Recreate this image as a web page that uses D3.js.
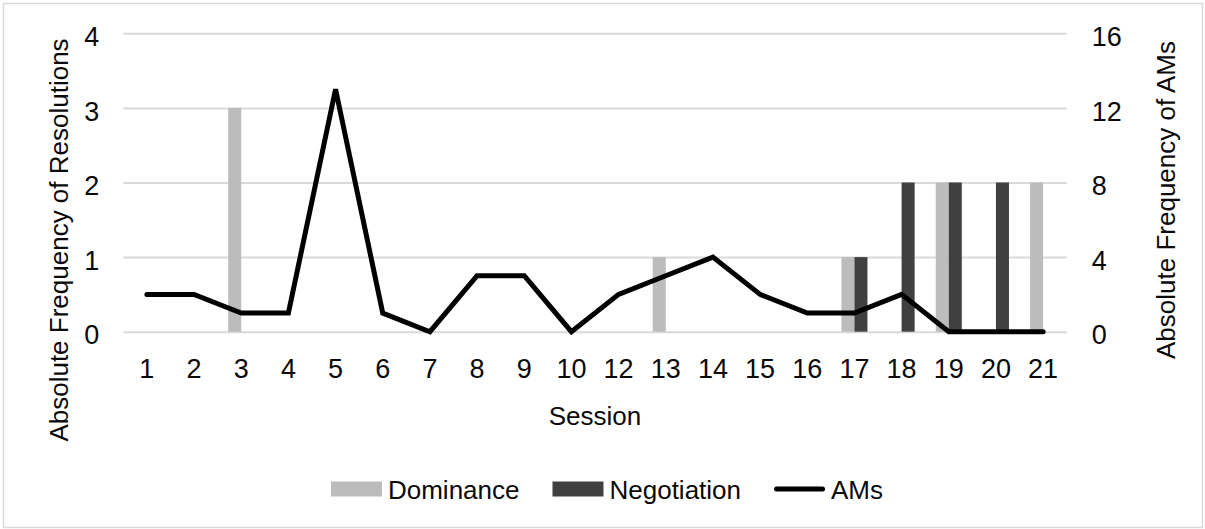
<!DOCTYPE html>
<html>
<head>
<meta charset="utf-8">
<script src="https://cdn.jsdelivr.net/npm/d3@7"></script>
<style>
  html, body { margin: 0; padding: 0; background: #fff; }
  svg text { font-family: "Liberation Sans", Arial, sans-serif; fill: #0a0a0a; }
</style>
</head>
<body>
<svg id="chart" width="1205" height="529"></svg>
<script>
// Sessions (no session 11 was recorded)
const sessions = ["1","2","3","4","5","6","7","8","9","10","12","13","14","15","16","17","18","19","20","21"];
// Resolutions per session, by type
const dominance   = [0,0,3,0,0,0,0,0,0,0,0,1,0,0,0,1,0,2,0,2];
const negotiation = [0,0,0,0,0,0,0,0,0,0,0,0,0,0,0,1,2,2,2,0];
// Argumentative moves per session
const ams         = [2,2,1,1,13,1,0,3,3,0,2,3,4,2,1,1,2,0,0,0];

const leftTicks  = [0,1,2,3,4];
const rightTicks = [0,4,8,12,16];

const seriesNames = ["Dominance","Negotiation"];
const colors = { Dominance: "#bcbcbc", Negotiation: "#404040", AMs: "#000000" };

const svg = d3.select("#chart");

// chart frame
svg.append("rect")
  .attr("x", 3.5).attr("y", 3.5).attr("width", 1199).attr("height", 524)
  .attr("fill", "#fff").attr("stroke", "#d9d9d9").attr("stroke-width", 1.5);

const plot = { left: 123.3, right: 1066.7, top: 33.3, bottom: 331.7 };

const x = d3.scaleBand().domain(sessions).range([plot.left, plot.right]).padding(0);
const bw = x.bandwidth();
const barW = bw * 0.276;
const xSub = d3.scaleBand().domain(seriesNames).range([bw / 2 - barW, bw / 2 + barW]).padding(0);

const yL = d3.scaleLinear().domain([0, 4]).range([plot.bottom, plot.top]);
const yR = d3.scaleLinear().domain([0, 16]).range([plot.bottom, plot.top]);

// gridlines
const grid = svg.append("g")
  .attr("transform", `translate(${plot.left},0)`)
  .call(d3.axisLeft(yL).tickValues(leftTicks).tickSize(-(plot.right - plot.left)).tickFormat(""));
grid.select(".domain").remove();
grid.selectAll(".tick line").attr("stroke", "#d9d9d9").attr("stroke-width", 2);

// left axis labels
const leftAxis = svg.append("g")
  .attr("transform", `translate(${plot.left - 24},0)`)
  .call(d3.axisLeft(yL).tickValues(leftTicks).tickSize(0).tickPadding(0).tickFormat(d3.format("d")));
leftAxis.select(".domain").remove();
leftAxis.selectAll("text").attr("font-size", 27).attr("dy", "0.45em");

// right axis labels
const rightAxis = svg.append("g")
  .attr("transform", `translate(${plot.right + 25},0)`)
  .call(d3.axisRight(yR).tickValues(rightTicks).tickSize(0).tickPadding(0).tickFormat(d3.format("d")));
rightAxis.select(".domain").remove();
rightAxis.selectAll("text").attr("font-size", 27).attr("dy", "0.45em");

// bottom axis labels
const bottomAxis = svg.append("g")
  .attr("transform", `translate(0,${plot.bottom})`)
  .call(d3.axisBottom(x).tickSize(0).tickPadding(0));
bottomAxis.select(".domain").remove();
bottomAxis.selectAll("text").attr("font-size", 27).attr("dy", 0).attr("y", 46);

// bars
const barData = [];
sessions.forEach((s, i) => {
  barData.push({ session: s, series: "Dominance", value: dominance[i] });
  barData.push({ session: s, series: "Negotiation", value: negotiation[i] });
});
svg.append("g").selectAll("rect")
  .data(barData.filter(d => d.value > 0))
  .join("rect")
  .attr("x", d => x(d.session) + xSub(d.series))
  .attr("width", xSub.bandwidth())
  .attr("y", d => yL(d.value))
  .attr("height", d => yL(0) - yL(d.value))
  .attr("fill", d => colors[d.series]);

// AMs line
const line = d3.line()
  .x((d, i) => x(sessions[i]) + bw / 2)
  .y(d => yR(d));
svg.append("path")
  .datum(ams)
  .attr("d", line)
  .attr("fill", "none")
  .attr("stroke", colors.AMs)
  .attr("stroke-width", 5)
  .attr("stroke-linejoin", "miter")
  .attr("stroke-linecap", "round");

// axis titles
svg.append("text")
  .attr("transform", "translate(68,240) rotate(-90)")
  .attr("text-anchor", "middle")
  .attr("font-size", 26)
  .text("Absolute Frequency of Resolutions");

svg.append("text")
  .attr("transform", "translate(1175,200) rotate(-90)")
  .attr("text-anchor", "middle")
  .attr("font-size", 26)
  .text("Absolute Frequency of AMs");

svg.append("text")
  .attr("x", (plot.left + plot.right) / 2)
  .attr("y", 425)
  .attr("text-anchor", "middle")
  .attr("font-size", 26)
  .text("Session");

// legend
const legendItems = [
  { name: "Dominance", type: "bar" },
  { name: "Negotiation", type: "bar" },
  { name: "AMs", type: "line" }
];
const legend = svg.append("g");
let cursor = 0;
const swatchW = 51, textGap = 6, itemGap = 33;
legendItems.forEach(item => {
  const g = legend.append("g").attr("transform", `translate(${cursor},0)`);
  if (item.type === "bar") {
    g.append("rect").attr("x", 0).attr("y", -7.5).attr("width", swatchW).attr("height", 15)
      .attr("fill", colors[item.name]);
  } else {
    g.append("line").attr("x1", 2.5).attr("x2", swatchW - 2.5).attr("y1", 0).attr("y2", 0)
      .attr("stroke", colors[item.name]).attr("stroke-width", 5).attr("stroke-linecap", "round");
  }
  const t = g.append("text").attr("x", swatchW + textGap).attr("y", 10)
    .attr("font-size", 26).text(item.name);
  cursor += swatchW + textGap + t.node().getComputedTextLength() + itemGap;
});
const legendWidth = cursor - itemGap;
legend.attr("transform", `translate(${607 - legendWidth / 2},489)`);
</script>
</body>
</html>
